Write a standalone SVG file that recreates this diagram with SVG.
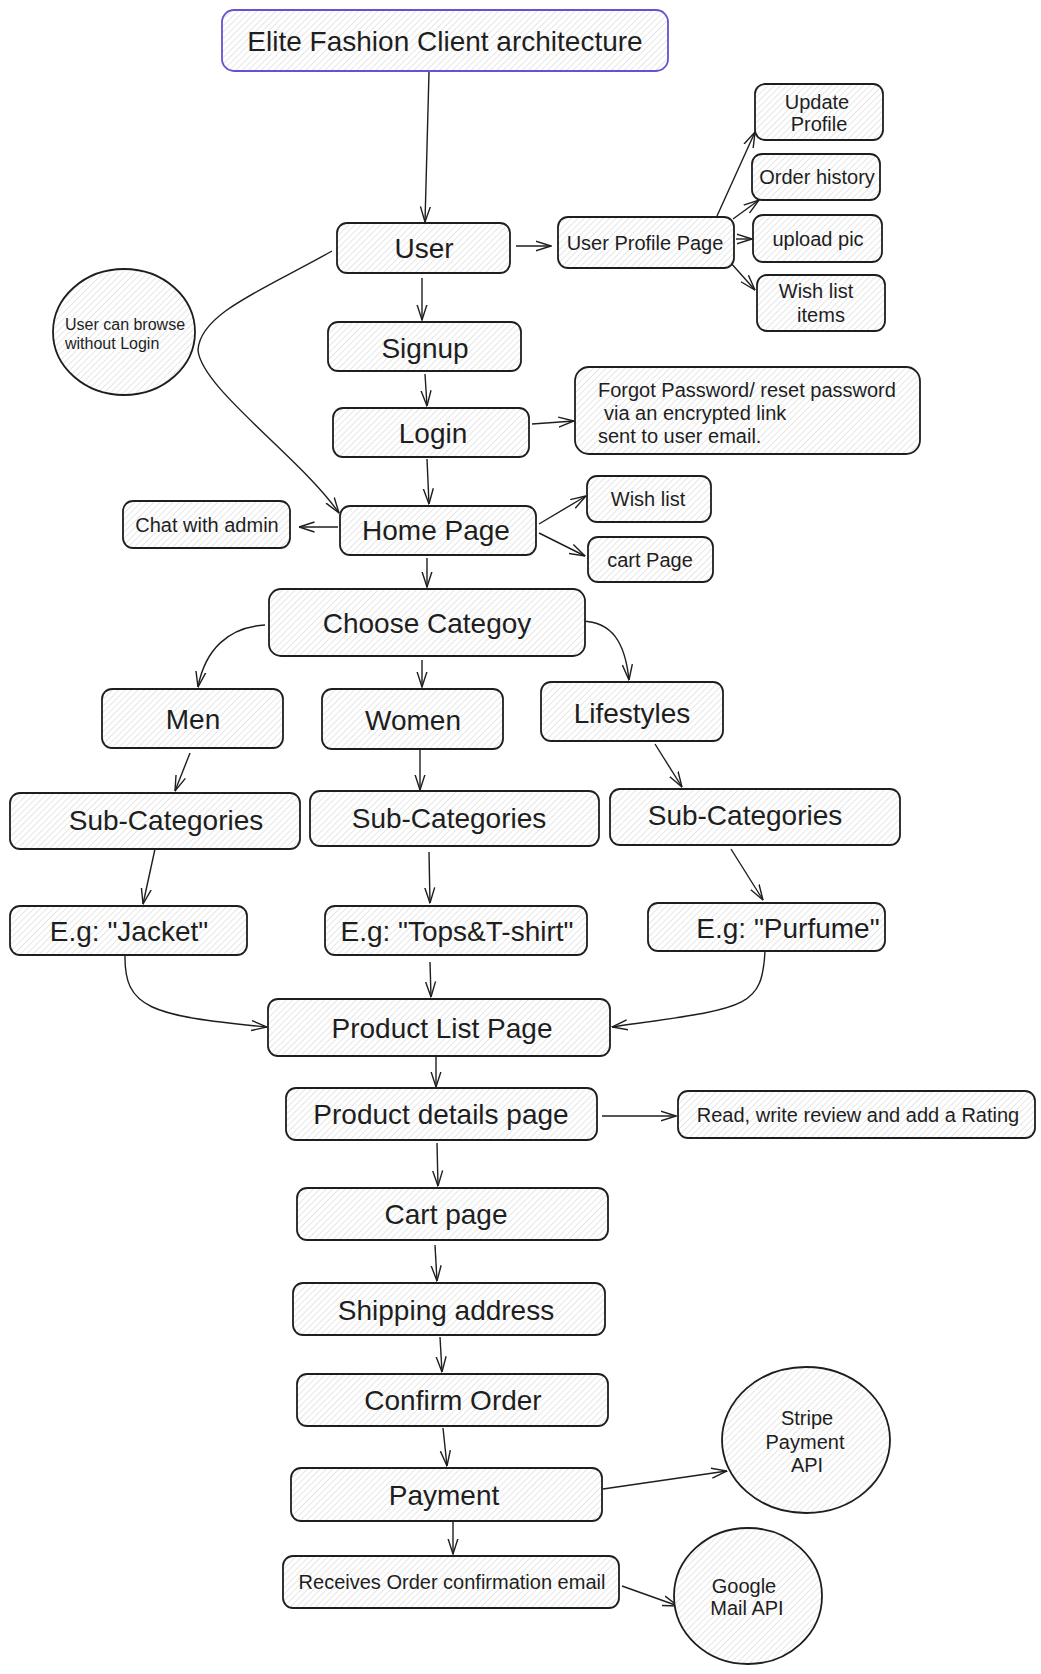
<svg xmlns="http://www.w3.org/2000/svg" width="1041" height="1674" viewBox="0 0 1041 1674">
<defs>
<pattern id="hatch" patternUnits="userSpaceOnUse" width="4.5" height="4.5" patternTransform="rotate(45)">
<rect width="4.5" height="4.5" fill="#ffffff"/>
<line x1="0" y1="0" x2="0" y2="4.5" stroke="#cfcfcf" stroke-width="1"/>
</pattern>
<marker id="arr" viewBox="0 0 16 12" refX="15.5" refY="6" markerWidth="16" markerHeight="12" markerUnits="userSpaceOnUse" orient="auto">
<path d="M0,1 L15.5,6 L0,11" fill="none" stroke="#1e1e1e" stroke-width="1.4"/>
</marker>
</defs>
<style>
.node rect, .node ellipse { fill: url(#hatch); stroke: #1e1e1e; stroke-width: 1.8; }
.title rect { stroke: #6a4fd6; }
text { font-family: "Liberation Sans", Arial, sans-serif; fill: #1e1e1e; dominant-baseline: central; }
.c { text-anchor: middle; }
.l { text-anchor: start; }
.f28 { font-size: 28px; }
.f20 { font-size: 20px; }
.f16 { font-size: 16px; }
#connectors path { fill: none; stroke: #1e1e1e; stroke-width: 1.4; marker-end: url(#arr); }
</style>
<rect width="1041" height="1674" fill="#ffffff"/>

<g id="connectors">
<path d="M429,72 L425,222"/>
<path d="M516,246 L551,246"/>
<path d="M717,216 L755,132"/>
<path d="M733,219 L759,200"/>
<path d="M736,239 L752,239"/>
<path d="M730,262 L755,290"/>
<path d="M332,251 C265,289 200,313 198,350 C201,388 300,457 339,513"/>
<path d="M422,278 L422,320"/>
<path d="M425,374 L427,406"/>
<path d="M532,424 L574,421"/>
<path d="M427,459 L429,504"/>
<path d="M338,527 L299,527"/>
<path d="M539,524 L586,496"/>
<path d="M539,533 L585,556"/>
<path d="M427,558 L427,587"/>
<path d="M265,625 C228,627 205,650 198,687"/>
<path d="M422,660 L422,687"/>
<path d="M582,621 C612,622 625,642 629,680"/>
<path d="M190,753 L175,791"/>
<path d="M420,749 L420,790"/>
<path d="M655,744 L682,787"/>
<path d="M155,849 L143,904"/>
<path d="M429,852 L430,903"/>
<path d="M731,849 L763,900"/>
<path d="M125,955 C124,1008 150,1016 267,1027"/>
<path d="M430,962 L431,997"/>
<path d="M765,951 C762,1010 745,1008 612,1027"/>
<path d="M436,1057 L436,1087"/>
<path d="M602,1116 L676,1116"/>
<path d="M437,1143 L438,1186"/>
<path d="M435,1245 L437,1281"/>
<path d="M440,1337 L442,1372"/>
<path d="M443,1428 L447,1466"/>
<path d="M603,1489 L727,1471"/>
<path d="M453,1517 L453,1554"/>
<path d="M622,1586 L678,1606"/>
</g>

<g id="title" class="node title"><rect x="222" y="10" width="446" height="61" rx="12"/><text class="c f28" x="445" y="41">Elite Fashion Client architecture</text></g>
<g id="user" class="node"><rect x="337" y="223" width="173" height="50" rx="10"/><text class="c f28" x="424" y="248">User</text></g>
<g id="user-profile-page" class="node"><rect x="558" y="217" width="176" height="51" rx="10"/><text class="c f20" x="645" y="243">User Profile Page</text></g>
<g id="update-profile" class="node"><rect x="755" y="84" width="128" height="56" rx="10"/><text class="c f20" x="817" y="102">Update</text><text class="c f20" x="819" y="124">Profile</text></g>
<g id="order-history" class="node"><rect x="752" y="154" width="128" height="46" rx="10"/><text class="c f20" x="817" y="177">Order history</text></g>
<g id="upload-pic" class="node"><rect x="753" y="215" width="129" height="47" rx="10"/><text class="c f20" x="818" y="239">upload pic</text></g>
<g id="wish-list-items" class="node"><rect x="757" y="275" width="128" height="56" rx="10"/><text class="c f20" x="816" y="291">Wish list</text><text class="c f20" x="821" y="315">items</text></g>
<g id="browse-note" class="node"><ellipse cx="124" cy="332" rx="71" ry="63"/><text class="l f16" x="65" y="324">User can browse</text><text class="l f16" x="65" y="343">without Login</text></g>
<g id="signup" class="node"><rect x="328" y="322" width="193" height="49" rx="10"/><text class="c f28" x="425" y="348">Signup</text></g>
<g id="login" class="node"><rect x="333" y="408" width="196" height="49" rx="10"/><text class="c f28" x="433" y="433">Login</text></g>
<g id="forgot-password" class="node"><rect x="575" y="367" width="345" height="87" rx="14"/><text class="l f20" x="598" y="390">Forgot Password/ reset password</text><text class="l f20" x="604" y="413">via an encrypted link</text><text class="l f20" x="598" y="436">sent to user email.</text></g>
<g id="home-page" class="node"><rect x="340" y="506" width="196" height="49" rx="10"/><text class="c f28" x="436" y="530">Home Page</text></g>
<g id="chat-with-admin" class="node"><rect x="123" y="501" width="167" height="47" rx="10"/><text class="c f20" x="207" y="525">Chat with admin</text></g>
<g id="wish-list" class="node"><rect x="587" y="476" width="124" height="46" rx="10"/><text class="c f20" x="648" y="499">Wish list</text></g>
<g id="cart-page-link" class="node"><rect x="588" y="537" width="125" height="45" rx="10"/><text class="c f20" x="650" y="560">cart Page</text></g>
<g id="choose-category" class="node"><rect x="269" y="589" width="316" height="67" rx="12"/><text class="c f28" x="427" y="623">Choose Categoy</text></g>
<g id="men" class="node"><rect x="102" y="689" width="181" height="59" rx="10"/><text class="c f28" x="193" y="719">Men</text></g>
<g id="women" class="node"><rect x="322" y="689" width="181" height="60" rx="10"/><text class="c f28" x="413" y="720">Women</text></g>
<g id="lifestyles" class="node"><rect x="541" y="682" width="182" height="59" rx="10"/><text class="c f28" x="632" y="713">Lifestyles</text></g>
<g id="sub-categories-men" class="node"><rect x="10" y="793" width="290" height="56" rx="10"/><text class="c f28" x="166" y="820">Sub-Categories</text></g>
<g id="sub-categories-women" class="node"><rect x="310" y="791" width="289" height="55" rx="10"/><text class="c f28" x="449" y="818">Sub-Categories</text></g>
<g id="sub-categories-lifestyles" class="node"><rect x="610" y="789" width="290" height="56" rx="10"/><text class="c f28" x="745" y="815">Sub-Categories</text></g>
<g id="eg-jacket" class="node"><rect x="10" y="906" width="237" height="49" rx="10"/><text class="c f28" x="129" y="931">E.g: "Jacket"</text></g>
<g id="eg-tops" class="node"><rect x="325" y="906" width="262" height="49" rx="10"/><text class="c f28" x="457" y="931">E.g: "Tops&amp;T-shirt"</text></g>
<g id="eg-purfume" class="node"><rect x="648" y="903" width="237" height="48" rx="10"/><text class="c f28" x="788" y="928">E.g: "Purfume"</text></g>
<g id="product-list-page" class="node"><rect x="268" y="999" width="342" height="57" rx="10"/><text class="c f28" x="442" y="1028">Product List Page</text></g>
<g id="product-details-page" class="node"><rect x="286" y="1088" width="311" height="52" rx="10"/><text class="c f28" x="441" y="1114">Product details page</text></g>
<g id="review-rating" class="node"><rect x="678" y="1091" width="357" height="47" rx="10"/><text class="c f20" x="858" y="1115">Read, write review and add a Rating</text></g>
<g id="cart-page" class="node"><rect x="297" y="1188" width="311" height="52" rx="10"/><text class="c f28" x="446" y="1214">Cart page</text></g>
<g id="shipping-address" class="node"><rect x="293" y="1283" width="312" height="52" rx="10"/><text class="c f28" x="446" y="1310">Shipping address</text></g>
<g id="confirm-order" class="node"><rect x="297" y="1374" width="311" height="52" rx="10"/><text class="c f28" x="453" y="1400">Confirm Order</text></g>
<g id="payment" class="node"><rect x="291" y="1468" width="311" height="53" rx="10"/><text class="c f28" x="444" y="1495">Payment</text></g>
<g id="confirmation-email" class="node"><rect x="283" y="1556" width="336" height="52" rx="10"/><text class="c f20" x="452" y="1582">Receives Order confirmation email</text></g>
<g id="stripe-api" class="node"><ellipse cx="806" cy="1440" rx="84" ry="73"/><text class="c f20" x="807" y="1418">Stripe</text><text class="c f20" x="805" y="1442">Payment</text><text class="c f20" x="807" y="1465">API</text></g>
<g id="google-mail-api" class="node"><ellipse cx="748" cy="1596" rx="74" ry="68"/><text class="c f20" x="744" y="1586">Google</text><text class="c f20" x="747" y="1608">Mail API</text></g>
</svg>
